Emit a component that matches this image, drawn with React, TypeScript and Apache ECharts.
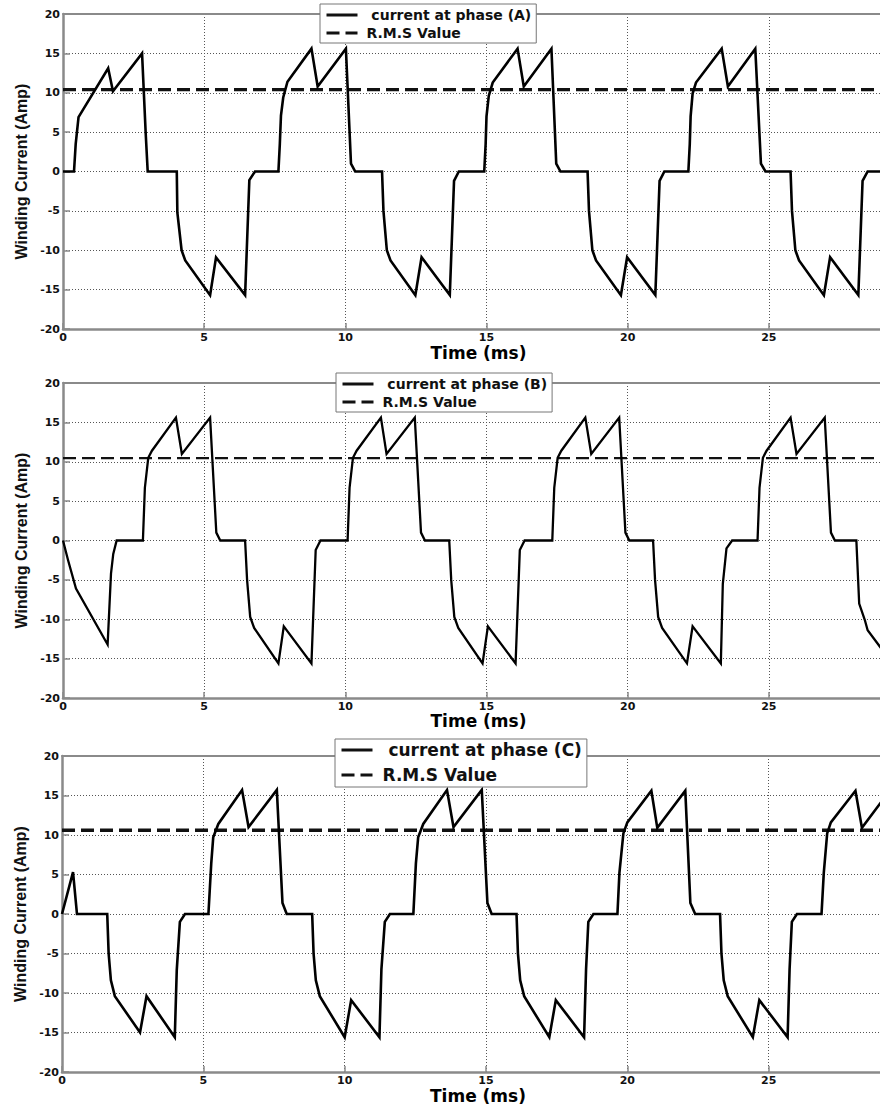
import React, { useEffect, useRef } from "react";
import * as echarts from "echarts";

// time (ms), current (A)
const phaseA: [number, number][] = [
  [0, 0], [0.39, 0], [0.45, 3.5], [0.55, 6.9], [1.6, 13.1], [1.77, 10.2], [2.8, 15.0], [2.93, 4.8], [3.0, 0],
  [4.03, 0], [4.05, -5.2], [4.2, -10.0], [4.33, -11.3], [5.21, -15.7], [5.42, -10.9], [6.45, -15.7], [6.6, -1.1], [6.8, 0],
  [7.63, 0], [7.68, 3.5], [7.72, 7.1], [7.8, 9.4], [7.95, 11.4], [8.8, 15.6], [9.02, 10.8], [10.02, 15.6], [10.2, 1.0], [10.35, 0],
  [11.3, 0], [11.35, -5], [11.47, -10], [11.6, -11.3], [12.48, -15.7], [12.7, -10.9], [13.7, -15.7], [13.85, -1.2], [14.02, 0],
  [14.92, 0], [14.97, 3.5], [15.0, 7.0], [15.08, 9.6], [15.22, 11.3], [16.1, 15.6], [16.32, 10.8], [17.3, 15.6], [17.47, 1.0], [17.62, 0],
  [18.58, 0], [18.63, -5], [18.75, -10], [18.88, -11.3], [19.76, -15.7], [19.98, -10.9], [20.98, -15.7], [21.13, -1.2], [21.3, 0],
  [22.15, 0], [22.2, 3.5], [22.23, 7], [22.3, 9.9], [22.42, 11.3], [23.33, 15.6], [23.55, 10.8], [24.52, 15.6], [24.72, 1.0], [24.88, 0],
  [25.77, 0], [25.82, -5], [25.94, -10], [26.07, -11.3], [26.95, -15.7], [27.17, -10.9], [28.17, -15.7], [28.32, -1.2], [28.5, 0], [30, 0],
];

const phaseB: [number, number][] = [
  [0, 0], [0.18, -2.5], [0.46, -6.1], [1.58, -13.2], [1.7, -4.2], [1.78, -1.7], [1.9, 0],
  [2.83, 0], [2.9, 6.7], [3.02, 10.5], [3.15, 11.4], [4.0, 15.6], [4.21, 11.0], [5.21, 15.6], [5.43, 1.0], [5.57, 0],
  [6.45, 0], [6.52, -5], [6.63, -9.7], [6.77, -11.1], [7.63, -15.6], [7.82, -10.9], [8.8, -15.6], [8.95, -1.2], [9.12, 0],
  [10.08, 0], [10.15, 6.7], [10.27, 10.5], [10.4, 11.4], [11.26, 15.6], [11.46, 11.0], [12.46, 15.6], [12.68, 1.0], [12.82, 0],
  [13.68, 0], [13.75, -5], [13.86, -9.7], [14.0, -11.1], [14.86, -15.6], [15.05, -10.9], [16.03, -15.6], [16.18, -1.2], [16.35, 0],
  [17.33, 0], [17.4, 6.7], [17.52, 10.5], [17.65, 11.4], [18.5, 15.6], [18.71, 11.0], [19.7, 15.6], [19.92, 1.0], [20.06, 0],
  [20.9, 0], [20.97, -5], [21.08, -9.7], [21.22, -11.1], [22.1, -15.6], [22.3, -10.9], [23.3, -15.6], [23.37, -5.5], [23.5, -1.0], [23.7, 0],
  [24.6, 0], [24.67, 6.7], [24.79, 10.5], [24.92, 11.4], [25.77, 15.6], [25.98, 11.0], [26.98, 15.6], [27.2, 1.0], [27.34, 0],
  [28.1, 0], [28.2, -8.0], [28.4, -10.1], [28.5, -11.4], [29.38, -15.6], [29.6, -10.9], [30, -12.5],
];

const phaseC: [number, number][] = [
  [0, 0], [0.39, 5.3], [0.53, 0], [1.6, 0], [1.65, -5], [1.73, -8.4], [1.87, -10.4], [2.76, -15], [2.99, -10.4], [3.99, -15.6], [4.06, -7.1], [4.17, -1], [4.35, 0],
  [5.18, 0], [5.28, 6.4], [5.35, 9.7], [5.53, 11.4], [6.37, 15.7], [6.6, 11.0], [7.6, 15.7], [7.8, 1.4], [7.95, 0],
  [8.85, 0], [8.9, -5], [8.98, -8.4], [9.12, -10.4], [10.0, -15.6], [10.23, -10.9], [11.23, -15.6], [11.3, -7], [11.42, -1], [11.6, 0],
  [12.43, 0], [12.52, 6.4], [12.6, 9.7], [12.78, 11.4], [13.62, 15.7], [13.85, 11.0], [14.85, 15.7], [15.05, 1.4], [15.2, 0],
  [16.08, 0], [16.13, -5], [16.21, -8.4], [16.35, -10.4], [17.24, -15.6], [17.47, -10.9], [18.47, -15.6], [18.54, -7], [18.62, -1], [18.8, 0],
  [19.65, 0], [19.72, 5.2], [19.86, 10.2], [20.0, 11.6], [20.85, 15.6], [21.06, 10.9], [22.05, 15.6], [22.23, 1.4], [22.4, 0],
  [23.28, 0], [23.33, -5], [23.41, -8.4], [23.55, -10.4], [24.44, -15.6], [24.67, -10.9], [25.67, -15.6], [25.74, -7], [25.82, -1], [26.0, 0],
  [26.87, 0], [26.95, 5.2], [27.07, 10.2], [27.2, 11.6], [28.07, 15.6], [28.3, 10.9], [29.28, 15.6], [29.45, 1.4], [29.6, 0], [30, 0],
];

const phaseNames = ["current at phase (A)", "current at phase (B)", "current at phase (C)"];
const rmsName = "R.M.S Value";
const rmsValues = [10.4, 10.45, 10.6];
const timeRange = [0, 30];
const timeStep = 5;
const currentRange = [-20, 20];
const currentStep = 5;
const xTitle = "Time (ms)";
const yTitle = "Winding Current (Amp)";

const phaseData = [phaseA, phaseB, phaseC];

// the canvas is wider than the visible page so the plot runs off the right edge
const CANVAS_W = 920;
const grids = [
  { left: 63, top: 14, height: 315, right: 10 },
  { left: 63, top: 383, height: 315, right: 10 },
  { left: 62, top: 756, height: 316, right: 10 },
];
const xNameGaps = [15, 12, 15];
const legendLayouts = [
  { left: 320, top: 4, fontSize: 14, lineHeight: 18, itemGap: 0, padding: [2, 5, 1, 5], textPad: 4 },
  { left: 336, top: 373, fontSize: 14, lineHeight: 18, itemGap: 0, padding: [2, 5, 1, 5], textPad: 4 },
  { left: 335, top: 739, fontSize: 17, lineHeight: 22, itemGap: 3, padding: [0, 5, 1, 5], textPad: 5 },
];
const lineWidths = [2.6, 2.3, 2.6];
const rmsWidths = [3.2, 2.2, 3.4];

const AXIS_GREY = "#8a8a8a";
const GRID_GREY = "#555";

export default function App() {
  const ref = useRef<HTMLDivElement>(null);

  useEffect(() => {
    if (!ref.current) return;
    const chart = echarts.init(ref.current, undefined, { renderer: "svg" });

    const xAxis: any[] = [];
    const yAxis: any[] = [];
    const series: any[] = [];
    const legend: any[] = [];

    grids.forEach((g, i) => {
      xAxis.push({
        type: "value",
        gridIndex: i,
        min: timeRange[0],
        max: timeRange[1],
        interval: timeStep,
        position: "bottom",
        name: xTitle,
        nameLocation: "middle",
        nameGap: xNameGaps[i],
        nameTextStyle: {
          fontFamily: "DejaVu Sans",
          fontWeight: "bold",
          fontSize: 17,
          color: "#000",
          padding: [0, 16, 0, 0],
        },
        axisLine: { show: true, onZero: false, lineStyle: { color: AXIS_GREY, width: 2.5 } },
        axisTick: { show: true, inside: true, length: 6, lineStyle: { color: AXIS_GREY, width: 1.5 } },
        axisLabel: {
          margin: 3,
          showMaxLabel: false,
          fontFamily: "DejaVu Sans",
          fontWeight: "bold",
          fontSize: 11,
          color: "#111",
        },
        splitLine: { show: true, lineStyle: { color: GRID_GREY, width: 1, type: [1, 2] } },
      });
    });
    grids.forEach((g, i) => {
      xAxis.push({
        type: "value",
        gridIndex: i,
        min: timeRange[0],
        max: timeRange[1],
        interval: timeStep,
        position: "top",
        axisLine: { show: true, onZero: false, lineStyle: { color: AXIS_GREY, width: 1.8 } },
        axisTick: { show: false },
        axisLabel: { show: false },
        splitLine: { show: false },
      });
    });
    grids.forEach((g, i) => {
      yAxis.push({
        type: "value",
        gridIndex: i,
        min: currentRange[0],
        max: currentRange[1],
        interval: currentStep,
        name: yTitle,
        nameLocation: "middle",
        nameGap: 30,
        nameTextStyle: {
          fontFamily: "Liberation Sans",
          fontWeight: "bold",
          fontSize: 16,
          color: "#111",
        },
        axisLine: { show: true, onZero: false, lineStyle: { color: AXIS_GREY, width: 2.5 } },
        axisTick: { show: true, inside: true, length: 7, lineStyle: { color: AXIS_GREY, width: 1.5 } },
        axisLabel: {
          margin: 3,
          fontFamily: "DejaVu Sans",
          fontWeight: "bold",
          fontSize: 11,
          color: "#111",
        },
        splitLine: {
          show: true,
          lineStyle: { color: GRID_GREY, width: 1, type: [1, 2] },
        },
      });
      series.push({
        type: "line",
        name: phaseNames[i],
        xAxisIndex: i,
        yAxisIndex: i,
        data: phaseData[i],
        symbol: "none",
        showSymbol: false,
        lineStyle: { color: "#000", width: lineWidths[i], join: "miter" },
        itemStyle: { color: "#000" },
        z: 4,
      });
      series.push({
        type: "line",
        name: rmsName,
        xAxisIndex: i,
        yAxisIndex: i,
        data: [
          [timeRange[0], rmsValues[i]],
          [timeRange[1], rmsValues[i]],
        ],
        symbol: "none",
        showSymbol: false,
        lineStyle: { color: "#111", width: rmsWidths[i], type: [13, 6] },
        itemStyle: { color: "#111" },
        z: 3,
      });
      const L = legendLayouts[i];
      legend.push({
        left: L.left,
        top: L.top,
        orient: "vertical",
        data: [phaseNames[i], rmsName],
        itemWidth: 31,
        itemHeight: 12,
        itemGap: L.itemGap,
        padding: L.padding,
        backgroundColor: "#fff",
        borderColor: "#777",
        borderWidth: 1,
        selectedMode: false,
        itemStyle: { opacity: 0 },
        lineStyle: { width: 3, color: "#111" },
        formatter: (name: string) => (name === rmsName ? name : " " + name),
        textStyle: {
          fontFamily: "DejaVu Sans",
          fontWeight: "bold",
          fontSize: L.fontSize,
          lineHeight: L.lineHeight,
          color: "#111",
          padding: [0, 0, 0, L.textPad],
        },
        z: 10,
      });
    });

    chart.setOption({
      animation: false,
      backgroundColor: "#fff",
      grid: grids.map((g) => ({ left: g.left, top: g.top, height: g.height, right: g.right, containLabel: false })),
      xAxis,
      yAxis,
      legend,
      series,
    });

    return () => chart.dispose();
  }, []);

  return (
    <div style={{ position: "absolute", left: 0, top: 0, width: 880, height: 1106, overflow: "hidden", background: "#fff" }}>
      <div ref={ref} style={{ width: CANVAS_W, height: 1106 }} />
    </div>
  );
}
